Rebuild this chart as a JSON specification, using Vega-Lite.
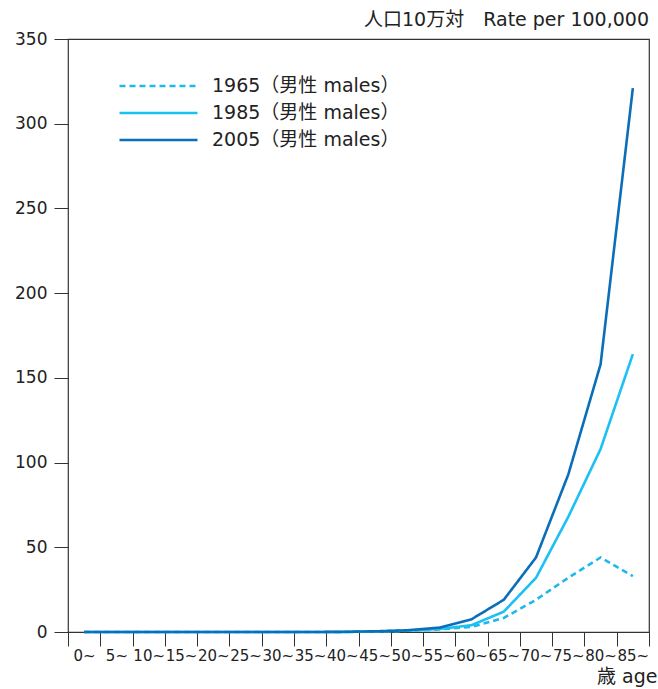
{
  "$schema": "https://vega.github.io/schema/vega-lite/v6.json",
  "width": 581,
  "height": 593,
  "autosize": "none",
  "padding": {"left": 68, "top": 39, "right": 9, "bottom": 57},
  "background": "white",
  "config": {
    "font": "DejaVu Sans, Noto Sans CJK JP",
    "view": {"stroke": "#333333", "strokeWidth": 1.2}
  },
  "title": {
    "text": "人口10万対\u3000Rate per 100,000",
    "anchor": "end",
    "frame": "group",
    "fontSize": 19,
    "fontWeight": "normal",
    "color": "#222222",
    "offset": 0
  },
  "data": {
    "values": [
      {"age": "0~", "series": "1965（男性 males）", "rate": 0},
      {"age": "5~", "series": "1965（男性 males）", "rate": 0},
      {"age": "10~", "series": "1965（男性 males）", "rate": 0},
      {"age": "15~", "series": "1965（男性 males）", "rate": 0},
      {"age": "20~", "series": "1965（男性 males）", "rate": 0},
      {"age": "25~", "series": "1965（男性 males）", "rate": 0},
      {"age": "30~", "series": "1965（男性 males）", "rate": 0},
      {"age": "35~", "series": "1965（男性 males）", "rate": 0},
      {"age": "40~", "series": "1965（男性 males）", "rate": 0},
      {"age": "45~", "series": "1965（男性 males）", "rate": 0.3},
      {"age": "50~", "series": "1965（男性 males）", "rate": 0.7},
      {"age": "55~", "series": "1965（男性 males）", "rate": 1.5},
      {"age": "60~", "series": "1965（男性 males）", "rate": 3},
      {"age": "65~", "series": "1965（男性 males）", "rate": 8.3},
      {"age": "70~", "series": "1965（男性 males）", "rate": 19},
      {"age": "75~", "series": "1965（男性 males）", "rate": 32},
      {"age": "80~", "series": "1965（男性 males）", "rate": 44},
      {"age": "85~", "series": "1965（男性 males）", "rate": 33},
      {"age": "0~", "series": "1985（男性 males）", "rate": 0},
      {"age": "5~", "series": "1985（男性 males）", "rate": 0},
      {"age": "10~", "series": "1985（男性 males）", "rate": 0},
      {"age": "15~", "series": "1985（男性 males）", "rate": 0},
      {"age": "20~", "series": "1985（男性 males）", "rate": 0},
      {"age": "25~", "series": "1985（男性 males）", "rate": 0},
      {"age": "30~", "series": "1985（男性 males）", "rate": 0},
      {"age": "35~", "series": "1985（男性 males）", "rate": 0},
      {"age": "40~", "series": "1985（男性 males）", "rate": 0},
      {"age": "45~", "series": "1985（男性 males）", "rate": 0.3},
      {"age": "50~", "series": "1985（男性 males）", "rate": 0.8},
      {"age": "55~", "series": "1985（男性 males）", "rate": 1.8},
      {"age": "60~", "series": "1985（男性 males）", "rate": 4},
      {"age": "65~", "series": "1985（男性 males）", "rate": 12},
      {"age": "70~", "series": "1985（男性 males）", "rate": 32},
      {"age": "75~", "series": "1985（男性 males）", "rate": 68},
      {"age": "80~", "series": "1985（男性 males）", "rate": 108},
      {"age": "85~", "series": "1985（男性 males）", "rate": 164},
      {"age": "0~", "series": "2005（男性 males）", "rate": 0},
      {"age": "5~", "series": "2005（男性 males）", "rate": 0},
      {"age": "10~", "series": "2005（男性 males）", "rate": 0},
      {"age": "15~", "series": "2005（男性 males）", "rate": 0},
      {"age": "20~", "series": "2005（男性 males）", "rate": 0},
      {"age": "25~", "series": "2005（男性 males）", "rate": 0},
      {"age": "30~", "series": "2005（男性 males）", "rate": 0},
      {"age": "35~", "series": "2005（男性 males）", "rate": 0},
      {"age": "40~", "series": "2005（男性 males）", "rate": 0.1},
      {"age": "45~", "series": "2005（男性 males）", "rate": 0.4},
      {"age": "50~", "series": "2005（男性 males）", "rate": 1},
      {"age": "55~", "series": "2005（男性 males）", "rate": 2.6},
      {"age": "60~", "series": "2005（男性 males）", "rate": 7.5},
      {"age": "65~", "series": "2005（男性 males）", "rate": 19},
      {"age": "70~", "series": "2005（男性 males）", "rate": 44},
      {"age": "75~", "series": "2005（男性 males）", "rate": 93},
      {"age": "80~", "series": "2005（男性 males）", "rate": 158},
      {"age": "85~", "series": "2005（男性 males）", "rate": 321}
    ]
  },
  "mark": {"type": "line", "strokeWidth": 2.6},
  "encoding": {
    "x": {
      "field": "age",
      "type": "ordinal",
      "sort": ["0~","5~","10~","15~","20~","25~","30~","35~","40~","45~","50~","55~","60~","65~","70~","75~","80~","85~"],
      "scale": {"type": "band", "paddingInner": 0, "paddingOuter": 0},
      "bandPosition": 0.5,
      "axis": {
        "title": "歳 age",
        "titleFontSize": 19,
        "titleFontWeight": "normal",
        "titleColor": "#222222",
        "titleAlign": "right",
        "titleAnchor": "end",
        "titleBaseline": "middle",
        "titleX": 589,
        "titleY": 44,
        "tickBand": "extent",
        "labelAngle": 0,
        "labelFontSize": 15,
        "labelColor": "#222222",
        "labelPadding": 2,
        "tickSize": 14,
        "tickColor": "#333333",
        "domain": false,
        "grid": false
      }
    },
    "y": {
      "field": "rate",
      "type": "quantitative",
      "scale": {"domain": [0, 350], "nice": false},
      "axis": {
        "title": null,
        "values": [0, 50, 100, 150, 200, 250, 300, 350],
        "labelFontSize": 17,
        "labelColor": "#222222",
        "labelPadding": 7,
        "tickSize": 14,
        "tickColor": "#333333",
        "domain": false,
        "grid": false
      }
    },
    "color": {
      "field": "series",
      "type": "nominal",
      "sort": ["1965（男性 males）", "1985（男性 males）", "2005（男性 males）"],
      "scale": {
        "domain": ["1965（男性 males）", "1985（男性 males）", "2005（男性 males）"],
        "range": ["#20b8ea", "#1cc0f2", "#0a6eb8"]
      },
      "legend": {
        "title": null,
        "orient": "none",
        "legendX": 50,
        "legendY": 36,
        "symbolType": "stroke",
        "symbolSize": 6084,
        "symbolStrokeWidth": 2.5,
        "clipHeight": 22,
        "rowPadding": 5,
        "labelFontSize": 19,
        "labelColor": "#222222",
        "labelOffset": 13,
        "labelLimit": 400
      }
    },
    "strokeDash": {
      "field": "series",
      "type": "nominal",
      "sort": ["1965（男性 males）", "1985（男性 males）", "2005（男性 males）"],
      "scale": {
        "domain": ["1965（男性 males）", "1985（男性 males）", "2005（男性 males）"],
        "range": [[6, 4], [1, 0], [1, 0]]
      },
      "legend": {
        "title": null,
        "orient": "none",
        "legendX": 50,
        "legendY": 36,
        "symbolType": "stroke",
        "symbolSize": 6084,
        "symbolStrokeWidth": 2.5,
        "clipHeight": 22,
        "rowPadding": 5,
        "labelFontSize": 19,
        "labelColor": "#222222",
        "labelOffset": 13,
        "labelLimit": 400
      }
    }
  }
}
